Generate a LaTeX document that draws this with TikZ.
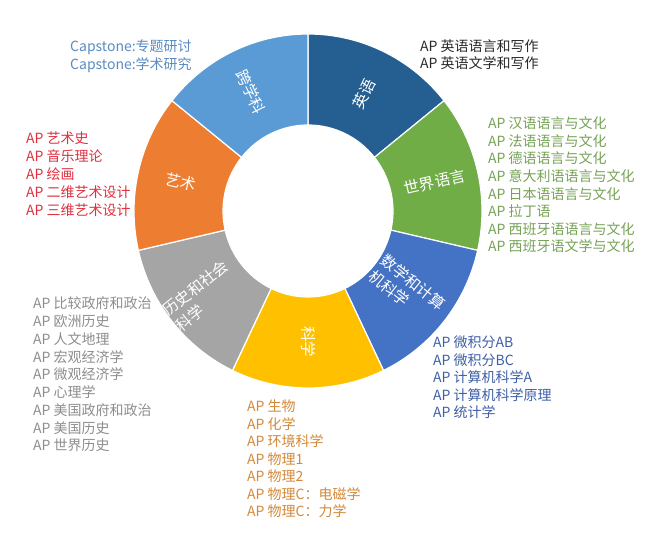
\documentclass[tikz,border=0pt]{standalone}
\usepackage{fontspec}
\setmainfont{Noto Sans CJK SC}
\definecolor{cEng}{HTML}{255E91}
\definecolor{cWorld}{HTML}{70AD47}
\definecolor{cMath}{HTML}{4472C4}
\definecolor{cSci}{HTML}{FFC000}
\definecolor{cHist}{HTML}{A5A5A5}
\definecolor{cArt}{HTML}{ED7D31}
\definecolor{cInter}{HTML}{5B9BD5}
\definecolor{tEng}{HTML}{2A2A2A}
\definecolor{tWorld}{HTML}{76A256}
\definecolor{tMath}{HTML}{3F5FA6}
\definecolor{tSci}{HTML}{D4893A}
\definecolor{tHist}{HTML}{8E8E8E}
\definecolor{tArt}{HTML}{E0303E}
\definecolor{tInter}{HTML}{5A8CC2}
\newcommand\donutseg[4]{%
  \fill[#1, draw=white, line width=1.2pt] ([shift={(#2:174 and 177)}]c)
    arc[start angle=#2, end angle=#3, x radius=174, y radius=177]
    -- ([shift={(#3:85 and 86)}]c)
    arc[start angle=#3, end angle=#2, x radius=85, y radius=86] -- cycle;}
\begin{document}
\begin{tikzpicture}[x=1pt,y=1pt,
  lst/.style={anchor=west, inner sep=0pt, font=\fontsize{14}{16}\selectfont,
    text height=0.88em, text depth=0.12em},
  seglbl/.style={text=white, font=\fontsize{15.5}{20}\selectfont, inner sep=0pt, align=left}]
\useasboundingbox (0,0) rectangle (666,535);
\fill[white] (0,0) rectangle (666,535);
\coordinate (c) at (308,324);
% segments
\donutseg{cEng}{90}{38.5714}{}
\donutseg{cWorld}{38.5714}{-12.8571}{}
\donutseg{cMath}{-12.8571}{-64.2857}{}
\donutseg{cSci}{-64.2857}{-115.7143}{}
\donutseg{cHist}{-115.7143}{-167.1429}{}
\donutseg{cArt}{-167.1429}{-218.5714}{}
\donutseg{cInter}{-218.5714}{-270}{}
% segment labels
\node[seglbl, rotate=64.29] (lEng) at ([shift={(64.29:130)}]c) {英语};
\node[seglbl, rotate=12.86] (lWorld) at ([shift={(12.86:130)}]c) {世界语言};
\node[seglbl, rotate=-38.57] (lMath) at ([shift={(-38.57:127)}]c) {数学和计算\\机科学};
\node[seglbl, rotate=-90] (lSci) at ([shift={(-90:131)}]c) {科学};
\node[seglbl, rotate=38.57] (lHist) at ([shift={(-141.43:136)}]c) {历史和社会\\科学};
\node[seglbl, rotate=-12.86] (lArt) at ([shift={(167.14:130)}]c) {艺术};
\node[seglbl, rotate=-64.29] (lInter) at ([shift={(115.71:132)}]c) {跨学科};
% lists
\foreach \t [count=\i] in {AP 英语语言和写作, AP 英语文学和写作}
  \node[lst, text=tEng] (e\i) at (420, {535-48-(\i-1)*17}) {\t};
\foreach \t [count=\i] in {Capstone:专题研讨, Capstone:学术研究}
  \node[lst, text=tInter] (p\i) at (70, {535-48-(\i-1)*17.5}) {\t};
\foreach \t [count=\i] in {AP 汉语语言与文化, AP 法语语言与文化, AP 德语语言与文化,
  AP 意大利语语言与文化, AP 日本语语言与文化, AP 拉丁语, AP 西班牙语语言与文化, AP 西班牙语文学与文化}
  \node[lst, text=tWorld] (w\i) at (488, {535-125-(\i-1)*17.6}) {\t};
\foreach \t [count=\i] in {AP 艺术史, AP 音乐理论, AP 绘画, AP 二维艺术设计, AP 三维艺术设计}
  \node[lst, text=tArt] (a\i) at (26, {535-140-(\i-1)*18}) {\t};
\foreach \t [count=\i] in {AP 比较政府和政治, AP 欧洲历史, AP 人文地理, AP 宏观经济学,
  AP 微观经济学, AP 心理学, AP 美国政府和政治, AP 美国历史, AP 世界历史}
  \node[lst, text=tHist] (h\i) at (33, {535-305-(\i-1)*17.75}) {\t};
\foreach \t [count=\i] in {AP 生物, AP 化学, AP 环境科学, AP 物理1, AP 物理2, AP 物理C：电磁学, AP 物理C：力学}
  \node[lst, text=tSci] (s\i) at (247, {535-408-(\i-1)*17.5}) {\t};
\foreach \t [count=\i] in {AP 微积分AB, AP 微积分BC, AP 计算机科学A, AP 计算机科学原理, AP 统计学}
  \node[lst, text=tMath] (m\i) at (433, {535-344-(\i-1)*17.5}) {\t};
\end{tikzpicture}
\end{document}
